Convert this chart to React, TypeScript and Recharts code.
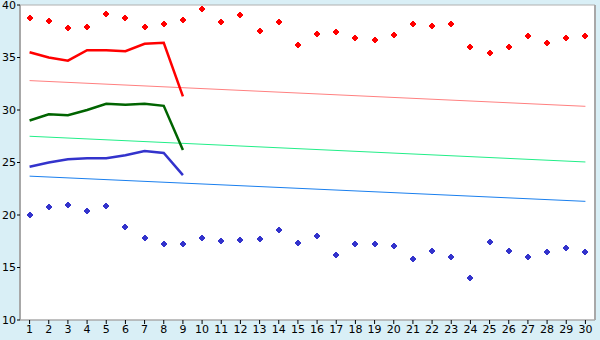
import React from "react";
import { ComposedChart, Line, XAxis, YAxis, CartesianGrid } from "recharts";

const days = [1, 2, 3, 4, 5, 6, 7, 8, 9, 10, 11, 12, 13, 14, 15, 16, 17, 18, 19, 20, 21, 22, 23, 24, 25, 26, 27, 28, 29, 30];
const maxTemps = [38.8, 38.5, 37.8, 37.9, 39.1, 38.8, 37.9, 38.2, 38.6, 39.6, 38.4, 39.0, 37.5, 38.4, 36.2, 37.2, 37.4, 36.9, 36.7, 37.1, 38.2, 38.0, 38.2, 36.0, 35.4, 36.0, 37.0, 36.4, 36.9, 37.0];
const minTemps = [20.0, 20.8, 21.0, 20.4, 20.9, 18.9, 17.8, 17.2, 17.2, 17.8, 17.5, 17.6, 17.7, 18.6, 17.3, 18.0, 16.2, 17.2, 17.2, 17.0, 15.8, 16.6, 16.0, 14.0, 17.4, 16.6, 16.0, 16.5, 16.9, 16.5];
const redLine = [35.5, 35.0, 34.7, 35.7, 35.7, 35.6, 36.3, 36.4, 31.3];
const greenLine = [29.0, 29.6, 29.5, 30.0, 30.6, 30.5, 30.6, 30.4, 26.2];
const blueLine = [24.6, 25.0, 25.3, 25.4, 25.4, 25.7, 26.1, 25.9, 23.8];
const redTrend = [32.8, 30.35];
const greenTrend = [27.5, 25.05];
const blueTrend = [23.7, 21.3];
const yTicks = [10, 15, 20, 25, 30, 35, 40];

const data = days.map((d, i) => ({
  day: d,
  max: maxTemps[i],
  min: minTemps[i],
  red: i < redLine.length ? redLine[i] : null,
  green: i < greenLine.length ? greenLine[i] : null,
  blue: i < blueLine.length ? blueLine[i] : null,
  redT: i === 0 ? redTrend[0] : i === days.length - 1 ? redTrend[1] : null,
  greenT: i === 0 ? greenTrend[0] : i === days.length - 1 ? greenTrend[1] : null,
  blueT: i === 0 ? blueTrend[0] : i === days.length - 1 ? blueTrend[1] : null,
}));

const makeMarker = (color: string) => (props: any) => {
  const { cx, cy, index } = props;
  if (cx == null || cy == null) return <g key={index} />;
  const x = Math.round(cx);
  const y = Math.round(cy);
  const d = `M${x - 1},${y - 3}H${x + 1}V${y - 2}H${x + 2}V${y - 1}H${x + 3}V${y + 1}H${x + 2}V${y + 2}H${x + 1}V${y + 3}H${x - 1}V${y + 2}H${x - 2}V${y + 1}H${x - 3}V${y - 1}H${x - 2}V${y - 2}H${x - 1}Z`;
  return <path key={index} d={d} fill={color} stroke="none" />;
};

const font = { fontFamily: "DejaVu Sans", fontSize: 11, fill: "#000" };

export default function App() {
  return (
    <div style={{ position: "absolute", left: 0, top: 0, width: 600, height: 340, background: "#d9eff6" }}>
      <ComposedChart width={600} height={340} data={data} margin={{ top: 5, right: 0, left: 0, bottom: 0 }}>
        <CartesianGrid vertical={false} stroke="#b0b0b0" fill="#ffffff" fillOpacity={1} />
        <XAxis
          dataKey="day"
          scale="band"
          interval={0}
          height={20}
          tickSize={4}
          tickMargin={1}
          axisLine={{ stroke: "#a8a8a8" }}
          tickLine={{ stroke: "#000" }}
          tick={font}
        />
        <YAxis
          yAxisId="l"
          domain={[10, 40]}
          ticks={yTicks}
          width={20}
          tickSize={3}
          tickMargin={1}
          axisLine={{ stroke: "#a8a8a8", strokeWidth: 2 }}
          tickLine={{ stroke: "#000" }}
          tick={font}
          interval={0}
        />
        <YAxis
          yAxisId="r"
          orientation="right"
          domain={[10, 40]}
          width={5}
          tick={false}
          tickLine={false}
          axisLine={{ stroke: "#a8a8a8", strokeWidth: 2 }}
        />
        <Line yAxisId="l" dataKey="redT" stroke="#ff8080" strokeWidth={1} dot={false} connectNulls isAnimationActive={false} />
        <Line yAxisId="l" dataKey="greenT" stroke="#22ee88" strokeWidth={1} dot={false} connectNulls isAnimationActive={false} />
        <Line yAxisId="l" dataKey="blueT" stroke="#1a7fee" strokeWidth={1} dot={false} connectNulls isAnimationActive={false} />
        <Line yAxisId="l" type="linear" dataKey="red" stroke="#ff0000" strokeWidth={2.5} dot={false} isAnimationActive={false} />
        <Line yAxisId="l" type="linear" dataKey="green" stroke="#006400" strokeWidth={2.5} dot={false} isAnimationActive={false} />
        <Line yAxisId="l" type="linear" dataKey="blue" stroke="#3333cc" strokeWidth={2.5} dot={false} isAnimationActive={false} />
        <Line yAxisId="l" dataKey="max" stroke="none" dot={makeMarker("#ff0000")} activeDot={false} isAnimationActive={false} />
        <Line yAxisId="l" dataKey="min" stroke="none" dot={makeMarker("#3333cc")} activeDot={false} isAnimationActive={false} />
      </ComposedChart>
    </div>
  );
}
